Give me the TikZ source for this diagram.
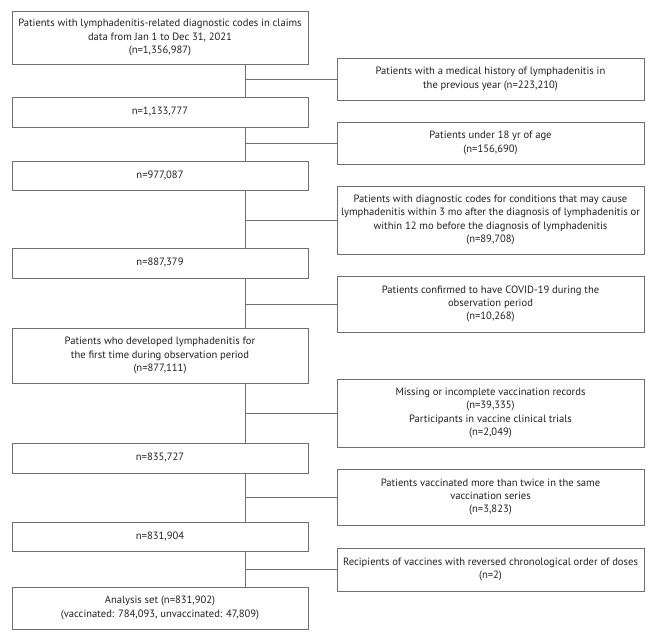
\documentclass[tikz,border=0pt]{standalone}
\usepackage{fontspec}
\setmainfont{PT Sans}
\definecolor{linegray}{RGB}{112,112,112}
\definecolor{textc}{RGB}{35,31,32}
\begin{document}
\begin{tikzpicture}[x=1pt,y=-1pt,
  box/.style={draw=linegray, line width=0.9pt, inner sep=0pt, align=center, text=textc,
    font=\fontsize{10.6}{13.3}\selectfont},
  lbox/.style={box, minimum width=296pt},
  rbox/.style={box, minimum width=307pt},
  link/.style={draw=linegray, line width=0.9pt}]
\useasboundingbox (0,0) rectangle (655,640);
\coordinate (tx) at (245,0);
% left column
\node[lbox, minimum height=53pt] (L1) at (160,37.5) {Patients with lymphadenitis-related diagnostic codes in claims\\data from Jan 1 to Dec 31, 2021\\(n=1,356,987)};
\node[lbox, minimum height=30pt] (L2) at (160,112) {n=1,133,777};
\node[lbox, minimum height=29pt] (L3) at (160,175.5) {n=977,087};
\node[lbox, minimum height=30pt] (L4) at (160,263) {n=887,379};
\node[lbox, minimum height=55pt] (L5) at (160,355.5) {Patients who developed lymphadenitis for\\the first time during observation period\\(n=877,111)};
\node[lbox, minimum height=30pt] (L6) at (160,458) {n=835,727};
\node[lbox, minimum height=29pt] (L7) at (160,536.5) {n=831,904};
\node[lbox, minimum height=42pt] (L8) at (160,608) {Analysis set (n=831,902)\\(vaccinated: 784,093, unvaccinated: 47,809)};
% right column
\node[rbox, minimum height=42pt] (R1) at (490.5,79) {Patients with a medical history of lymphadenitis in\\the previous year (n=223,210)};
\node[rbox, minimum height=42pt] (R2) at (490.5,143) {Patients under 18 yr of age\\(n=156,690)};
\node[rbox, minimum height=68pt] (R3) at (490.5,220) {Patients with diagnostic codes for conditions that may cause\\lymphadenitis within 3 mo after the diagnosis of lymphadenitis or\\within 12 mo before the diagnosis of lymphadenitis\\(n=89,708)};
\node[rbox, minimum height=56pt] (R4) at (490.5,304) {Patients confirmed to have COVID-19 during the\\observation period\\(n=10,268)};
\node[rbox, minimum height=68pt] (R5) at (490.5,413) {Missing or incomplete vaccination records\\(n=39,335)\\Participants in vaccine clinical trials\\(n=2,049)};
\node[rbox, minimum height=56pt] (R6) at (490.5,497) {Patients vaccinated more than twice in the same\\vaccination series\\(n=3,823)};
\node[rbox, minimum height=43pt] (R7) at (490.5,569.5) {Recipients of vaccines with reversed chronological order of doses\\(n=2)};
% trunk
\foreach \a/\b in {L1/L2,L2/L3,L3/L4,L4/L5,L5/L6,L6/L7,L7/L8}
  \draw[link] (\a.south -| tx) -- (\b.north -| tx);
% branches
\foreach \r in {R1,R2,R3,R4,R5,R6,R7}
  \draw[link] (\r.west -| tx) -- (\r.west);
\end{tikzpicture}
\end{document}
